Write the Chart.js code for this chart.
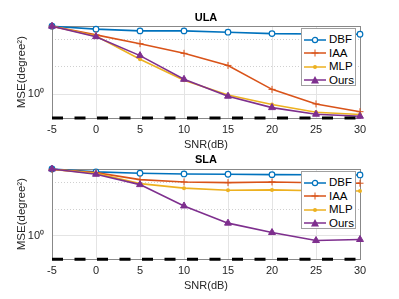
<!DOCTYPE html>
<html>
<head>
<meta charset="utf-8">
<script src="https://cdn.jsdelivr.net/npm/chart.js@4.4.1/dist/chart.umd.min.js"></script>
<style>
    body { margin: 0; background: #fff; font-family: "Liberation Sans", Arial, sans-serif; }
    .panel { position: absolute; left: 0; width: 399px; }
    .legend {
        position: absolute; width: 55px; height: 58px; box-sizing: border-box;
        background: #fff; border: 1px solid #a0a0a0; padding-top: 4px;
        font-size: 11.5px; color: #000;
    }
    .legend .row { height: 13.5px; line-height: 13.5px; white-space: nowrap; }
    .legend svg { vertical-align: middle; margin: 0 2px 0 1px; }
</style>
</head>
<body>
<div class="panel" style="top:0;height:150px">
    <canvas id="ula" width="399" height="150"></canvas>
    <div class="legend" id="leg-ula" style="left:301px;top:28px"></div>
</div>
<div class="panel" style="top:150px;height:149px">
    <canvas id="sla" width="399" height="149"></canvas>
    <div class="legend" id="leg-sla" style="left:301px;top:21px"></div>
</div>
<script>
// SNR axis (dB)
const snr = [-5, 0, 5, 10, 15, 20, 25, 30];

// ULA panel, MSE in degree^2
const ulaDbf  = [5.65, 5.24, 5.01, 5.01, 4.85, 4.68, 4.63, 4.6];
const ulaIaa  = [5.65, 4.53, 3.62, 2.83, 2.08, 1.13, 0.78, 0.64];
const ulaMlp  = [5.65, 4.41, 2.43, 1.43, 0.98, 0.77, 0.63, 0.595];
const ulaOurs = [5.65, 4.33, 2.67, 1.46, 0.95, 0.71, 0.60, 0.57];
const ulaCrb  = [0.545, 0.545, 0.545, 0.545, 0.545, 0.545, 0.545, 0.545];

// SLA panel
const slaDbf  = [5.65, 5.24, 5.06, 4.97, 4.93, 4.88, 4.86, 4.84];
const slaIaa  = [5.6, 5.14, 4.29, 4.04, 3.97, 4.04, 3.95, 3.91];
const slaMlp  = [5.6, 5.06, 3.87, 3.44, 3.26, 3.29, 3.22, 3.2];
const slaOurs = [5.65, 4.93, 3.77, 2.17, 1.39, 1.09, 0.886, 0.91];
const slaCrb  = [0.545, 0.545, 0.545, 0.545, 0.545, 0.545, 0.545, 0.545];

const seriesNames = ['DBF', 'IAA', 'MLP', 'Ours'];
const yMajorTicks = [1];
const yMinorTicks = [2, 4];
const yMin = 0.545;
const yMax = 5.65;

const colors = ['#0072BD', '#D95319', '#EDB120', '#7E2F8E'];
const FONT = '"Liberation Sans", Arial, sans-serif';
Chart.defaults.font.family = FONT;
Chart.defaults.color = '#262626';

function pts(vals) {
    return snr.map((s, i) => ({ x: s, y: vals[i] }));
}

function makeDatasets(dbf, iaa, mlp, ours, crb) {
    const common = { borderWidth: 1.6, tension: 0, clip: false };
    return [
        { ...common, label: seriesNames[0], data: pts(dbf), borderColor: colors[0], order: 5,
          pointStyle: 'circle', pointRadius: 2.8, pointBorderWidth: 1.2, pointBackgroundColor: '#fff', pointBorderColor: colors[0] },
        { ...common, label: seriesNames[1], data: pts(iaa), borderColor: colors[1], order: 4,
          pointStyle: 'cross', pointRadius: 3.5, pointBorderWidth: 1, pointBorderColor: colors[1] },
        { ...common, label: seriesNames[2], data: pts(mlp), borderColor: colors[2], order: 3,
          pointStyle: 'circle', pointRadius: 2, pointBorderWidth: 0, pointBackgroundColor: colors[2] },
        { ...common, label: seriesNames[3], data: pts(ours), borderColor: colors[3], order: 2,
          pointStyle: 'triangle', pointRadius: 4, pointBorderWidth: 1, pointBackgroundColor: colors[3], pointBorderColor: colors[3] },
        { label: 'CRB', data: pts(crb), borderColor: '#000', borderWidth: 3, borderDash: [11, 11.5],
          pointRadius: 0, tension: 0, clip: false, order: 1 }
    ];
}

function makeChart(canvasId, titleText, datasets, geo) {
    const xGrid = ctx => (ctx.tick && (ctx.tick.value === -5 || ctx.tick.value === 30)) ? 'rgba(0,0,0,0)' : '#e4e4e4';
    return new Chart(document.getElementById(canvasId), {
        type: 'line',
        data: { datasets: datasets },
        options: {
            responsive: false,
            animation: false,
            layout: { padding: { left: 0, right: 39, top: 0, bottom: geo.padBottom } },
            plugins: {
                legend: { display: false },
                tooltip: { enabled: false },
                title: {
                    display: true, text: titleText, color: '#000', fullSize: false,
                    font: { size: 11, weight: 'bold' },
                    padding: geo.titlePad
                }
            },
            scales: {
                x: {
                    type: 'linear', position: 'bottom', min: -5, max: 30,
                    afterFit: s => { s.height = 32; },
                    ticks: { stepSize: 5, padding: 5, font: { size: 11 } },
                    grid: { color: xGrid, drawTicks: false },
                    border: { color: '#888' },
                    title: { display: true, text: 'SNR(dB)', padding: 0, font: { size: 11, lineHeight: 1 } }
                },
                xTop: {
                    type: 'linear', position: 'top', min: -5, max: 30,
                    afterFit: s => { s.height = 0; },
                    ticks: { display: false },
                    grid: { drawOnChartArea: false, drawTicks: false },
                    border: { color: '#888' }
                },
                y: {
                    type: 'logarithmic', position: 'left', min: yMin, max: yMax,
                    afterFit: s => { s.width = 52; },
                    afterBuildTicks: s => { s.ticks = yMajorTicks.map(v => ({ value: v })); },
                    ticks: { padding: 8, font: { size: 11 }, callback: v => v === 1 ? '10⁰' : '' },
                    grid: { color: '#e4e4e4', drawTicks: false },
                    border: { color: '#888' },
                    title: { display: true, text: 'MSE(degree²)', font: { size: 11.5, lineHeight: 1 }, padding: { top: 16.5, bottom: 0 } }
                },
                yMinor: {
                    type: 'logarithmic', position: 'left', min: yMin, max: yMax,
                    afterFit: s => { s.width = 0; },
                    afterBuildTicks: s => { s.ticks = yMinorTicks.map(v => ({ value: v })); },
                    ticks: { display: false },
                    grid: { color: '#d0d0d0', drawTicks: false },
                    border: { display: false, dash: [1, 2] }
                },
                yRight: {
                    type: 'logarithmic', position: 'right', min: yMin, max: yMax,
                    afterFit: s => { s.width = 0; },
                    ticks: { display: false },
                    grid: { drawOnChartArea: false, drawTicks: false },
                    border: { color: '#888' }
                }
            }
        }
    });
}

function buildLegend(elId) {
    const marks = [
        c => `<circle cx="12" cy="5" r="2.6" fill="#fff" stroke="${c}" stroke-width="1.2"/>`,
        c => `<path d="M8.5 5H15.5M12 1.5V8.5" stroke="${c}" stroke-width="1"/>`,
        c => `<circle cx="12" cy="5" r="2" fill="${c}"/>`,
        c => `<polygon points="12,1 16,8.5 8,8.5" fill="${c}"/>`
    ];
    const el = document.getElementById(elId);
    el.innerHTML = seriesNames.map((name, i) =>
        `<div class="row"><svg width="24" height="10"><line x1="1" y1="5" x2="23" y2="5" stroke="${colors[i]}" stroke-width="1.5"/>${marks[i](colors[i])}</svg>${name}</div>`
    ).join('');
}

makeChart('ula', 'ULA', makeDatasets(ulaDbf, ulaIaa, ulaMlp, ulaOurs, ulaCrb),
    { padBottom: 0, titlePad: { top: 11, bottom: 2 } });
makeChart('sla', 'SLA', makeDatasets(slaDbf, slaIaa, slaMlp, slaOurs, slaCrb),
    { padBottom: 7.7, titlePad: { top: 3, bottom: 2.8 } });
buildLegend('leg-ula');
buildLegend('leg-sla');
</script>
</body>
</html>
